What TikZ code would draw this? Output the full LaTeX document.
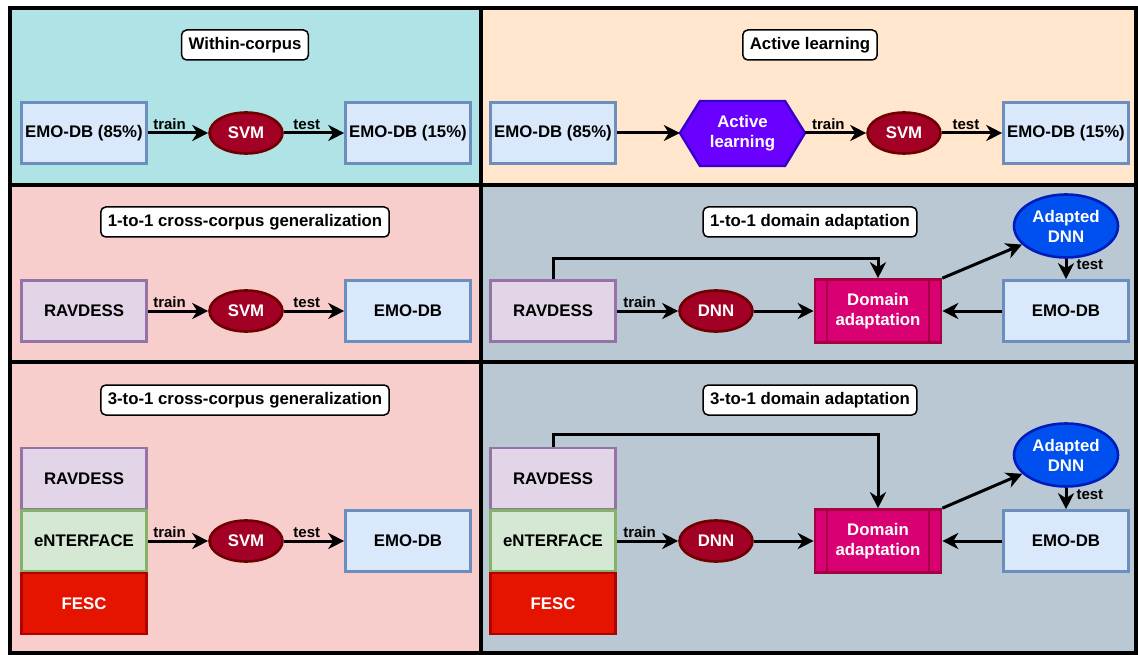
\documentclass[tikz,border=0pt]{standalone}
\usepackage{fontspec}
\setmainfont{Liberation Sans}
\usetikzlibrary{arrows.meta,calc,shapes.geometric}
\definecolor{cTeal}{HTML}{B0E3E6}
\definecolor{cPeach}{HTML}{FFE6CC}
\definecolor{cPink}{HTML}{F8CECC}
\definecolor{cSlate}{HTML}{BAC8D3}
\definecolor{cBlueF}{HTML}{DAE8FC}
\definecolor{cBlueS}{HTML}{6C8EBF}
\definecolor{cPurF}{HTML}{E1D5E7}
\definecolor{cPurS}{HTML}{9673A6}
\definecolor{cGrnF}{HTML}{D5E8D4}
\definecolor{cGrnS}{HTML}{82B366}
\definecolor{cRedF}{HTML}{E51400}
\definecolor{cRedS}{HTML}{B20000}
\definecolor{cSvmF}{HTML}{A20025}
\definecolor{cSvmS}{HTML}{6F0000}
\definecolor{cHexF}{HTML}{6A00FF}
\definecolor{cHexS}{HTML}{3700CC}
\definecolor{cDaF}{HTML}{D80073}
\definecolor{cDaS}{HTML}{A50040}
\definecolor{cAdF}{HTML}{0050EF}
\definecolor{cAdS}{HTML}{001DBC}
\newcommand{\bigf}{\bfseries\fontsize{16.8}{20}\selectfont}
\newcommand{\lblf}{\bfseries\fontsize{15}{18}\selectfont}
\tikzset{
  box/.style={draw, line width=2.6pt, minimum width=125pt, minimum height=61pt, inner sep=0pt, font=\bigf},
  bluebox/.style={box, fill=cBlueF, draw=cBlueS},
  purbox/.style={box, fill=cPurF, draw=cPurS},
  grnbox/.style={box, fill=cGrnF, draw=cGrnS},
  redbox/.style={box, fill=cRedF, draw=cRedS, text=white},
  svm/.style={ellipse, draw=cSvmS, fill=cSvmF, line width=2.6pt, minimum width=73pt, minimum height=41pt, inner sep=0pt, text=white, font=\bigf},
  adnn/.style={ellipse, draw=cAdS, fill=cAdF, line width=2.6pt, minimum width=104pt, minimum height=63pt, inner sep=0pt, text=white, font=\bigf, align=center},
  dabox/.style={draw=cDaS, fill=cDaF, line width=2.6pt, minimum width=126pt, minimum height=63pt, inner sep=0pt, text=white, font=\bigf, align=center},
  title/.style={draw, fill=white, rounded corners=5pt, line width=1.5pt, minimum height=30pt, inner xsep=7pt, inner ysep=0pt, font=\bigf},
  arr/.style={line width=3pt, -{Stealth[length=16pt,width=16pt,inset=5pt]}},
  lbl/.style={font=\lblf, inner sep=1.5pt, above},
  panel/.style={line width=3.2pt, draw=black}
}
\begin{document}
\begin{tikzpicture}[x=1pt,y=-1pt]
\useasboundingbox (0,0) rectangle (1138,655);
% panels
\fill[cTeal]  (10,8)   rectangle (481,185);
\fill[cPeach] (481,8)  rectangle (1136,185);
\fill[cPink]  (10,185) rectangle (481,362);
\fill[cSlate] (481,185) rectangle (1136,362);
\fill[cPink]  (10,362) rectangle (481,653);
\fill[cSlate] (481,362) rectangle (1136,653);
\draw[panel] (10,8) rectangle (481,185);
\draw[panel] (481,8) rectangle (1136,185);
\draw[panel] (10,185) rectangle (481,362);
\draw[panel] (481,185) rectangle (1136,362);
\draw[panel] (10,362) rectangle (481,653);
\draw[panel] (481,362) rectangle (1136,653);

% ---------- Within-corpus ----------
\node[title] (t1) at (245,45) {Within-corpus};
\node[bluebox] (a1) at (84,133) {EMO-DB (85\%)};
\node[svm] (a2) at (246,133) {SVM};
\node[bluebox] (a3) at (408,133) {EMO-DB (15\%)};
\draw[arr] (a1) -- node[lbl, pos=0.36] {train} (a2);
\draw[arr] (a2) -- node[lbl, pos=0.38] {test} (a3);

% ---------- Active learning ----------
\node[title] (t2) at (810,45) {Active learning};
\node[bluebox] (b1) at (553,133) {EMO-DB (85\%)};
\fill[cHexF] (680,133) -- (700,101) -- (785,101) -- (805,133) -- (785,166) -- (700,166) -- cycle;
\draw[cHexS, line width=2.4pt, line join=miter] (680,133) -- (700,101) -- (785,101) -- (805,133) -- (785,166) -- (700,166) -- cycle;
\node[minimum width=125pt, minimum height=65pt, inner sep=0pt, text=white, font=\bigf, align=center] (b2) at (742.5,133) {Active\\learning};
\node[svm] (b3) at (904,133) {SVM};
\node[bluebox] (b4) at (1066,133) {EMO-DB (15\%)};
\draw[arr] (b1) -- (b2);
\draw[arr] (b2) -- node[lbl, pos=0.38] {train} (b3);
\draw[arr] (b3) -- node[lbl, pos=0.4] {test} (b4);

% ---------- 1-to-1 cross-corpus ----------
\node[title] (t3) at (245,222) {1-to-1 cross-corpus generalization};
\node[purbox] (c1) at (84,311) {RAVDESS};
\node[svm] (c2) at (246,311) {SVM};
\node[bluebox] (c3) at (408,311) {EMO-DB};
\draw[arr] (c1) -- node[lbl, pos=0.36] {train} (c2);
\draw[arr] (c2) -- node[lbl, pos=0.38] {test} (c3);

% ---------- 1-to-1 domain adaptation ----------
\node[title] (t4) at (810,222) {1-to-1 domain adaptation};
\node[purbox] (d1) at (553,311) {RAVDESS};
\node[svm] (d2) at (716,311) {DNN};
\node[dabox] (d3) at (878,311) {Domain\\adaptation};
\draw[cDaS, line width=2pt] ($(d3.north west)+(13,0)$) -- ($(d3.south west)+(13,0)$);
\draw[cDaS, line width=2pt] ($(d3.north east)+(-13,0)$) -- ($(d3.south east)+(-13,0)$);
\node[bluebox] (d4) at (1066,311) {EMO-DB};
\node[adnn] (d5) at (1066,226) {Adapted\\DNN};
\draw[arr] (d1) -- node[lbl, pos=0.37] {train} (d2);
\draw[arr] (d2) -- (d3);
\draw[arr] (d4) -- (d3);
\draw[arr] (d1.north) -- ++(0,-21) -| (d3.north);
\draw[arr] (d3.north east) -- (d5);
\draw[arr] (d5) -- node[font=\lblf, right, inner sep=9pt, pos=0.3] {test} (d4);

% ---------- 3-to-1 cross-corpus ----------
\node[title] (t5) at (245,400) {3-to-1 cross-corpus generalization};
\node[purbox] (e1) at (84,478.5) {RAVDESS};
\node[grnbox] (e2) at (84,541) {eNTERFACE};
\node[redbox] (e3) at (84,603.5) {FESC};
\node[svm] (e4) at (246,541) {SVM};
\node[bluebox] (e5) at (408,541) {EMO-DB};
\draw[arr] (e2) -- node[lbl, pos=0.36] {train} (e4);
\draw[arr] (e4) -- node[lbl, pos=0.38] {test} (e5);

% ---------- 3-to-1 domain adaptation ----------
\node[title] (t6) at (810,400) {3-to-1 domain adaptation};
\node[purbox] (f1) at (553,478.5) {RAVDESS};
\node[grnbox] (f2) at (553,541) {eNTERFACE};
\node[redbox] (f3) at (553,603.5) {FESC};
\node[svm] (f4) at (716,541) {DNN};
\node[dabox] (f5) at (878,541) {Domain\\adaptation};
\draw[cDaS, line width=2pt] ($(f5.north west)+(13,0)$) -- ($(f5.south west)+(13,0)$);
\draw[cDaS, line width=2pt] ($(f5.north east)+(-13,0)$) -- ($(f5.south east)+(-13,0)$);
\node[bluebox] (f6) at (1066,541) {EMO-DB};
\node[adnn] (f7) at (1066,455) {Adapted\\DNN};
\draw[arr] (f2) -- node[lbl, pos=0.37] {train} (f4);
\draw[arr] (f4) -- (f5);
\draw[arr] (f6) -- (f5);
\draw[arr] (f1.north) -- ++(0,-12) -| (f5.north);
\draw[arr] (f5.north east) -- (f7);
\draw[arr] (f7) -- node[font=\lblf, right, inner sep=9pt, pos=0.3] {test} (f6);
\end{tikzpicture}
\end{document}
